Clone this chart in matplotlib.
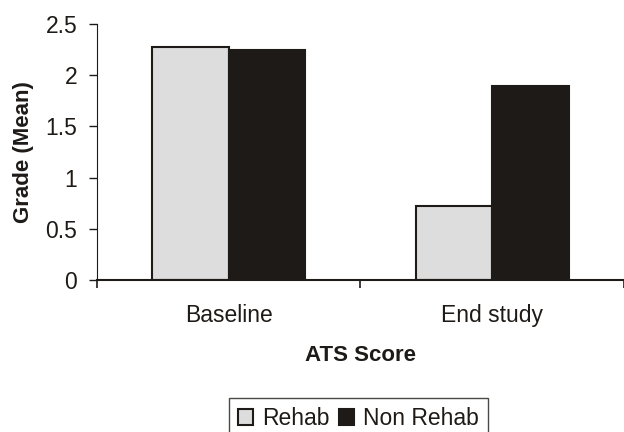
import numpy as np
import matplotlib.pyplot as plt
from matplotlib.ticker import FixedLocator, NullFormatter

plt.rcParams['font.family'] = ['Liberation Sans', 'DejaVu Sans']

categories = ['Baseline', 'End study']
rehab = [2.28, 0.72]
non_rehab = [2.25, 1.90]
yticks = [0, 0.5, 1, 1.5, 2, 2.5]
ytick_labels = ['0', '0.5', '1', '1.5', '2', '2.5']

fig = plt.figure(figsize=(6.24, 4.32), dpi=100)
ax = fig.add_axes([0.155, 0.352, 0.845, 0.592])

x = np.arange(len(categories))
w = 0.29
ax.bar(x - w / 2, rehab, w, color='#dddddd', edgecolor='#1e1a17', linewidth=1.5, label='Rehab')
ax.bar(x + w / 2, non_rehab, w, color='#1e1a17', edgecolor='#1e1a17', linewidth=1.5, label='Non Rehab')

ax.set_xlim(-0.5, 1.5)
ax.set_ylim(0, 2.5)
ax.set_yticks(yticks)
ax.set_yticklabels(ytick_labels, fontsize=16.5, color='#1e1a17')
ax.set_xticks(x)
ax.set_xticklabels(categories, fontsize=16.5, color='#1e1a17')
ax.tick_params(axis='x', which='major', length=0, pad=17)
ax.xaxis.set_minor_locator(FixedLocator([-0.5, 0.5, 1.5]))
ax.xaxis.set_minor_formatter(NullFormatter())
ax.tick_params(axis='x', which='minor', length=6, width=1.2, color='#1e1a17')
ax.tick_params(axis='y', length=6, width=1.0, color='#1e1a17', pad=8)

for s in ['top', 'right']:
    ax.spines[s].set_visible(False)
ax.spines['left'].set_color('#1e1a17')
ax.spines['bottom'].set_color('#1e1a17')
ax.spines['bottom'].set_linewidth(1.5)

ax.set_ylabel('Grade (Mean)', fontsize=16, fontweight='bold', labelpad=8, color='#1e1a17')
ax.set_xlabel('ATS Score', fontsize=16, fontweight='bold', labelpad=13, color='#1e1a17')

leg = fig.legend(loc='upper center', bbox_to_anchor=(0.575, 0.079), ncol=2,
                 fontsize=16.5, frameon=True, fancybox=False, handlelength=0.65,
                 handleheight=0.65, handletextpad=0.4, columnspacing=0.4,
                 borderpad=0.4, borderaxespad=0)
leg.get_frame().set_edgecolor('#1e1a17')
leg.get_frame().set_linewidth(1.0)
for t in leg.get_texts():
    t.set_color('#1e1a17')

fig.savefig('out.png', dpi=100)
